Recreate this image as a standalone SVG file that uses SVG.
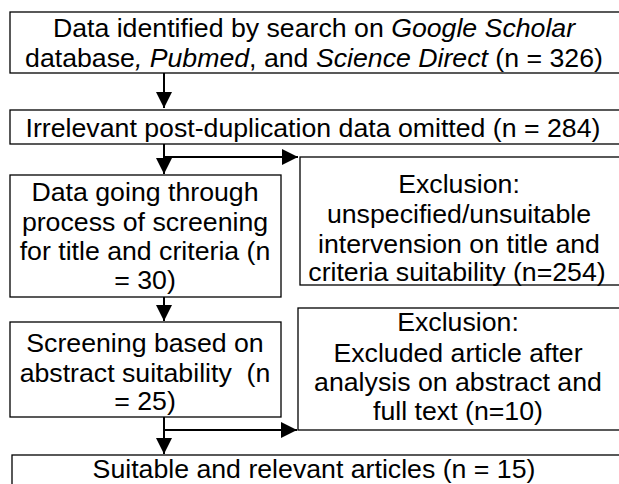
<svg xmlns="http://www.w3.org/2000/svg" width="619" height="484" viewBox="0 0 619 484">
<style>
.box{fill:#fff;stroke:#000;stroke-width:1.3}
text{font-family:"Liberation Sans",Arial,sans-serif;font-size:26.7px;fill:#000;text-anchor:middle}
.c{stroke:#000;stroke-width:2;fill:none}
</style>
<defs>
<marker id="ah" markerWidth="8" markerHeight="8" refX="8" refY="4" orient="auto" markerUnits="strokeWidth">
<path d="M0,0 L8,4 L0,8 Z" fill="#000"/>
</marker>
</defs>
<rect width="619" height="484" fill="#fff"/>
<g id="n1">
<rect class="box" x="10" y="12" width="620" height="61"/>
<text x="314" y="37">Data identified by search on <tspan font-style="italic">Google Scholar</tspan></text>
<text x="314" y="67">database<tspan font-style="italic">, Pubmed</tspan>, and <tspan font-style="italic">Science Direct</tspan> (n = 326)</text>
</g>
<g id="n2">
<rect class="box" x="10" y="110" width="620" height="34"/>
<text x="313" y="137">Irrelevant post-duplication data omitted (n = 284)</text>
</g>
<g id="n3">
<rect class="box" x="10" y="175" width="271" height="122"/>
<text x="145" y="201">Data going through</text>
<text x="145" y="231">process of screening</text>
<text x="145" y="260">for title and criteria (n</text>
<text x="145" y="289">= 30)</text>
</g>
<g id="n4">
<rect class="box" x="300" y="157" width="330" height="128"/>
<text x="459" y="193">Exclusion:</text>
<text x="459" y="223">unspecified/unsuitable</text>
<text x="459" y="253">intervension on title and</text>
<text x="457" y="281">criteria suitability (n=254)</text>
</g>
<g id="n5">
<rect class="box" x="10" y="322" width="271" height="95"/>
<text x="145" y="352">Screening based on</text>
<text x="145" y="382" xml:space="preserve">abstract suitability  (n</text>
<text x="145" y="410">= 25)</text>
</g>
<g id="n6">
<rect class="box" x="298" y="308" width="330" height="122"/>
<text x="458" y="331">Exclusion:</text>
<text x="458" y="362">Excluded article after</text>
<text x="458" y="391">analysis on abstract and</text>
<text x="458" y="420">full text (n=10)</text>
</g>
<g id="n7">
<rect class="box" x="12" y="455" width="620" height="40"/>
<text x="314" y="478">Suitable and relevant articles (n = 15)</text>
</g>
<g id="connectors">
<line class="c" x1="164" y1="73" x2="164" y2="108" marker-end="url(#ah)"/>
<line class="c" x1="164" y1="144" x2="164" y2="174" marker-end="url(#ah)"/>
<line class="c" x1="164" y1="157" x2="298" y2="157" marker-end="url(#ah)"/>
<line class="c" x1="164" y1="297" x2="164" y2="321" marker-end="url(#ah)"/>
<line class="c" x1="164" y1="417" x2="164" y2="454" marker-end="url(#ah)"/>
<line class="c" x1="164" y1="430" x2="297" y2="430" marker-end="url(#ah)"/>
</g>
</svg>
